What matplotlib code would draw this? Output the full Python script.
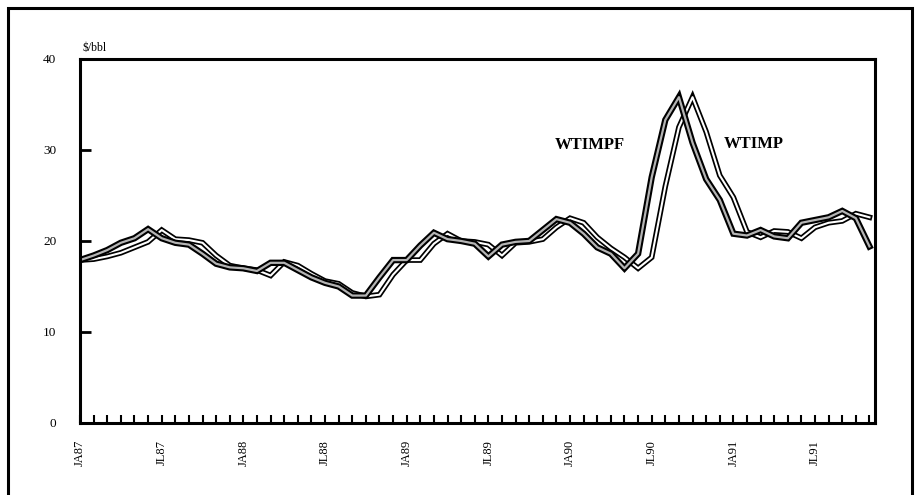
import numpy as np
import matplotlib.pyplot as plt
from matplotlib.patches import Rectangle

# monthly values, Jan 1987 .. Nov 1991 ($/bbl)
wtimp = [17.9, 18.0, 18.3, 18.7, 19.3, 19.9, 21.2, 20.2, 20.1, 19.8, 18.4, 17.3,
         17.0, 16.8, 16.2, 17.7, 17.3, 16.4, 15.6, 15.3, 14.3, 13.9, 14.1, 16.3,
         17.9, 17.9, 19.7, 20.8, 20.0, 19.9, 19.6, 18.4, 19.8, 19.9, 20.2, 21.5,
         22.5, 22.0, 20.4, 19.2, 18.2, 17.0, 18.2, 26.0, 32.5, 35.8, 32.0, 27.2,
         24.8, 21.0, 20.4, 21.1, 21.0, 20.3, 21.5, 22.0, 22.2, 23.0, 22.6]
wtimpf = [17.9, 18.4, 19.0, 19.8, 20.3, 21.3, 20.3, 19.8, 19.6, 18.6, 17.5, 17.1,
          17.0, 16.7, 17.6, 17.6, 16.8, 16.0, 15.4, 15.0, 14.0, 14.0, 16.0, 17.9,
          17.9, 19.5, 20.9, 20.2, 20.0, 19.7, 18.3, 19.6, 19.9, 20.0, 21.2, 22.4,
          22.0, 20.8, 19.3, 18.6, 17.0, 18.6, 27.0, 33.3, 35.8, 30.8, 26.8, 24.5,
          20.8, 20.6, 21.2, 20.5, 20.3, 22.0, 22.3, 22.6, 23.3, 22.5, 19.4]
tick_labels = ['JA87', 'JL87', 'JA88', 'JL88', 'JA89', 'JL89', 'JA90', 'JL90', 'JA91', 'JL91']

plt.rcParams['font.family'] = ['Liberation Serif', 'DejaVu Serif']

fig = plt.figure(figsize=(9.2, 4.95), dpi=100)
ax = fig.add_axes([0.087, 0.1455, 0.864, 0.7354])

months = np.arange(len(wtimp))
# double-stroke look of the scanned lines
ax.plot(months, wtimp, color='black', lw=4.0, solid_joinstyle='miter')
ax.plot(months, wtimp, color='white', lw=1.5)
ax.plot(months, wtimpf, color='black', lw=4.6, solid_joinstyle='miter')
ax.plot(months, wtimpf, color='#b4b4b4', lw=1.6)

ax.set_xlim(0, 58.4)
ax.set_ylim(0, 40)
ax.set_yticks([0, 10, 20, 30, 40])
ax.set_xticks(np.arange(0, 60, 6))
ax.set_xticklabels(tick_labels, rotation=90)
ax.set_xticks(np.arange(0, 59, 1), minor=True)
ax.tick_params(axis='y', direction='in', length=8, width=2, pad=17, labelsize=9.5)
ax.tick_params(axis='x', which='both', direction='in', length=6, width=1.5, pad=12, labelsize=9)
for s in ax.spines.values():
    s.set_linewidth(2.2)

ax.text(0.2, 40.5, '$/bbl', fontsize=8.5, va='bottom', ha='left')
ax.text(34.9, 30.5, 'WTIMPF', fontsize=12, fontweight='bold', va='center', ha='left')
ax.text(47.3, 30.7, 'WTIMP', fontsize=12, fontweight='bold', va='center', ha='left')

# outer frame of the page
fig.add_artist(Rectangle((8 / 920, -0.05), 904 / 920, 0.05 + 487 / 495,
                         transform=fig.transFigure, fill=False, lw=2.2,
                         edgecolor='black', clip_on=False))

fig.savefig('out.png', dpi=100)
